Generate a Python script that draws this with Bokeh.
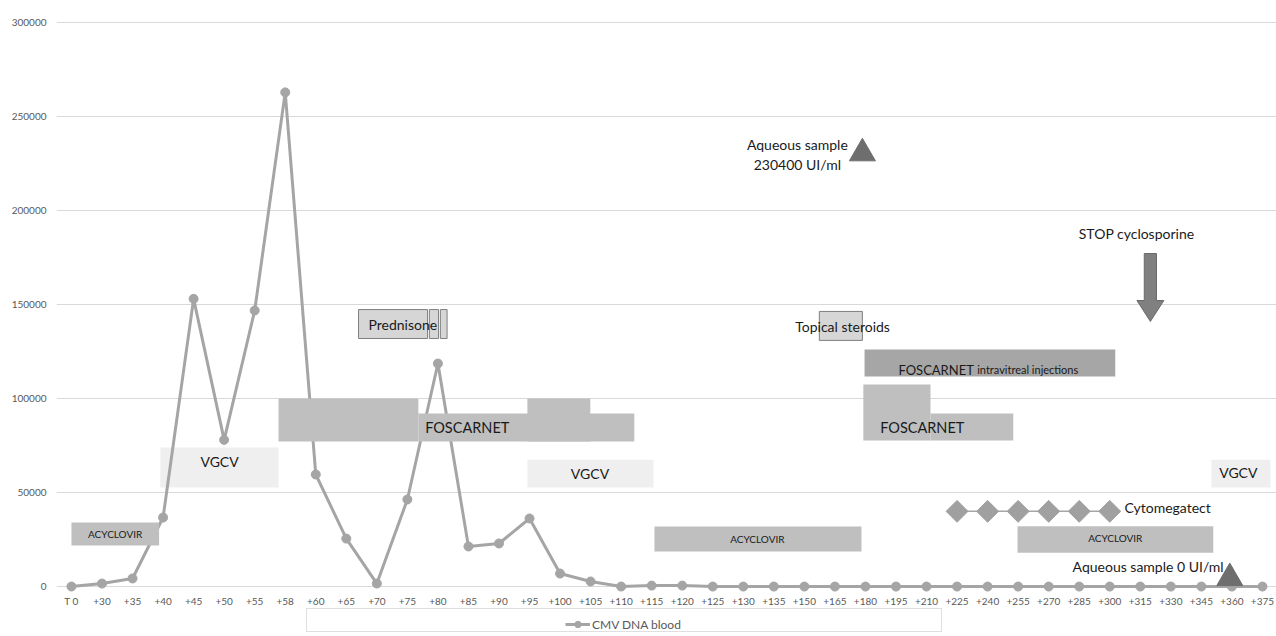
from bokeh.plotting import figure
from bokeh.models import Range1d, FixedTicker, BasicTickFormatter, Legend, LegendItem
from bokeh.core.properties import value
from bokeh.embed import file_html
from bokeh.resources import INLINE

FONT = "Lato"

# ---------------- data ----------------
days = ["T 0", "+30", "+35", "+40", "+45", "+50", "+55", "+58", "+60", "+65",
        "+70", "+75", "+80", "+85", "+90", "+95", "+100", "+105", "+110", "+115",
        "+120", "+125", "+130", "+135", "+150", "+165", "+180", "+195", "+210", "+225",
        "+240", "+255", "+270", "+285", "+300", "+315", "+330", "+345", "+360", "+375"]
cmv_blood = [0, 1600, 4300, 36700, 153000, 78000, 146800, 262800, 59600, 25500,
             1600, 46300, 118600, 21300, 22900, 36200, 6900, 2700, 0, 500,
             500, 0, 0, 0, 0, 0, 0, 0, 0, 0,
             0, 0, 0, 0, 0, 0, 0, 0, 0, 0]
y_ticks = [0, 50000, 100000, 150000, 200000, 250000, 300000]

# treatment periods (x in day-index units, y in chart units)
acyclovir_start = [0.0, 19.09, 30.98]
acyclovir_end = [2.87, 25.87, 37.39]
acyclovir_low = [21800, 18600, 18000]
acyclovir_high = [34000, 31900, 32100]

vgcv_start = [2.91, 14.93, 37.33]
vgcv_end = [6.78, 19.06, 39.26]
vgcv_low = [52700, 52700, 52700]
vgcv_high = [73900, 67500, 67500]

foscarnet_start = [6.78, 11.36, 14.93, 25.93, 28.13]
foscarnet_end = [11.36, 18.43, 16.99, 28.13, 30.84]
foscarnet_low = [77100, 77100, 77100, 77700, 77700]
foscarnet_high = [100000, 92000, 100000, 107400, 92000]

intravitreal_start = [25.97]
intravitreal_end = [34.18]
intravitreal_low = [111700]
intravitreal_high = [126000]

steroid_start = [9.40, 11.72, 12.08, 24.49]
steroid_end = [11.66, 12.02, 12.30, 25.90]
steroid_low = [131900, 131900, 131900, 130900]
steroid_high = [147300, 147300, 147300, 146300]

cytomegatect_x = [29, 30, 31, 32, 33, 34]
cytomegatect_y = [40000, 40000, 40000, 40000, 40000, 40000]

aqueous_x = [25.9, 37.93]
aqueous_y = [230400, 4500]

stop_x = 35.33
stop_tail, stop_neck, stop_tip = 177100, 152100, 141000

# ---------------- figure ----------------
p = figure(frame_width=1220, frame_height=613,
           min_border_left=56, min_border_right=0, min_border_top=21, min_border_bottom=0,
           x_range=Range1d(-0.49, 39.46), y_range=Range1d(-25500, 300500),
           output_backend="svg", toolbar_location=None)
p.outline_line_color = None
p.background_fill_color = "white"
p.border_fill_color = "white"

xi = list(range(len(days)))
p.xaxis.ticker = FixedTicker(ticks=xi)
p.xaxis.major_label_overrides = {i: d for i, d in enumerate(days)}
p.xaxis.fixed_location = 0
p.yaxis.ticker = FixedTicker(ticks=y_ticks)
p.yaxis.formatter = BasicTickFormatter(use_scientific=False)
for ax in (p.xaxis, p.yaxis):
    ax.axis_line_color = None
    ax.major_tick_line_color = None
    ax.minor_tick_line_color = None
    ax.major_tick_out = 0
    ax.major_tick_in = 0
    ax.minor_tick_out = 0
    ax.minor_tick_in = 0
    ax.major_label_text_font = FONT
    ax.major_label_text_font_size = "10px"
    ax.major_label_text_color = "#595959"
p.xaxis.major_label_standoff = 8
p.yaxis.major_label_standoff = 10
p.xgrid.visible = False
p.ygrid.ticker = FixedTicker(ticks=y_ticks)
p.ygrid.grid_line_color = "#d9d9d9"

# light VGCV boxes under the line
p.quad(left=vgcv_start, right=vgcv_end, bottom=vgcv_low, top=vgcv_high,
       fill_color="#efefef", line_color=None)

# CMV series
line_r = p.line(xi, cmv_blood, line_color="#a5a5a5", line_width=3)
pts_r = p.scatter(xi, cmv_blood, size=9, fill_color="#a5a5a5", line_color="#a5a5a5")

# other treatment boxes on top
p.quad(left=acyclovir_start, right=acyclovir_end, bottom=acyclovir_low, top=acyclovir_high,
       fill_color="#bfbfbf", line_color=None)
p.quad(left=foscarnet_start, right=foscarnet_end, bottom=foscarnet_low, top=foscarnet_high,
       fill_color="#bfbfbf", line_color=None)
p.quad(left=intravitreal_start, right=intravitreal_end, bottom=intravitreal_low,
       top=intravitreal_high, fill_color="#a6a6a6", line_color=None)
p.quad(left=steroid_start, right=steroid_end, bottom=steroid_low, top=steroid_high,
       fill_color="#d6d6d6", line_color="#7f7f7f", line_width=1)

# Cytomegatect doses
p.line(cytomegatect_x, cytomegatect_y, line_color="#a6a6a6", line_width=1.5)
p.scatter(cytomegatect_x, cytomegatect_y, marker="square", angle=0.785398, size=15.5,
          fill_color="#a0a0a0", line_color="#a0a0a0")

# aqueous samples
p.scatter(aqueous_x, aqueous_y, marker="triangle", size=26,
          fill_color="#6e6e6e", line_color="#6e6e6e")

# STOP cyclosporine arrow
sw, hw = 0.2, 0.44
p.patch([stop_x - sw, stop_x + sw, stop_x + sw, stop_x + hw, stop_x, stop_x - hw, stop_x - sw],
        [stop_tail, stop_tail, stop_neck, stop_neck, stop_tip, stop_neck, stop_neck],
        fill_color="#808080", line_color="#6a6a6a", line_width=1)

# ---------------- texts ----------------
def txt(x, y, t, size, align="center", baseline="middle", color="#1a1a1a"):
    p.text(x=x, y=y, text=t, text_font=value(FONT), text_font_size=size,
           text_align=align, text_baseline=baseline, text_color=color)

txt([1.43, 22.46, 34.18], [27700, 25500, 26000], ["ACYCLOVIR"] * 3, "10px")
txt([4.85, 16.98, 38.21], [66500, 60300, 60600], ["VGCV"] * 3, "14px")
txt([12.96, 27.86], [84400, 84700], ["FOSCARNET"] * 2, "14.5px")
txt([29.55], [115400], ["FOSCARNET"], "13px", align="right", baseline="alphabetic")
txt([29.66], [115400], ["intravitreal injections"], "11px", align="left", baseline="alphabetic")
txt([10.85], [139600], ["Prednisone"], "14px")
txt([25.25], [138500], ["Topical steroids"], "14px")
txt([23.77], [229800], ["Aqueous sample\n230400 UI/ml"], "14px")
txt([34.88], [187800], ["STOP cyclosporine"], "14px")
txt([34.48], [42000], ["Cytomegatect"], "14px", align="left")
txt([37.73], [10600], ["Aqueous sample 0 UI/ml"], "14px", align="right")

# ---------------- legend (inside the frame, under the day labels) ----------------
# wide bordered frame of the legend
frame_dummy = p.line([0], [0], line_alpha=0)
legend_box = Legend(items=[LegendItem(label=" ", renderers=[frame_dummy])],
                    location=(250, 2), orientation="horizontal",
                    border_line_color="#bfbfbf", label_width=603,
                    glyph_width=20, glyph_height=16, padding=3, margin=0,
                    background_fill_alpha=1.0, label_text_font_size="12px")
p.add_layout(legend_box, "center")

legend = Legend(items=[LegendItem(label="CMV DNA blood", renderers=[line_r, pts_r])],
                location=(509, 2), orientation="horizontal",
                border_line_color=None, background_fill_alpha=0.0,
                glyph_width=25, glyph_height=16, padding=3, margin=0,
                label_standoff=2,
                label_text_font=FONT, label_text_font_size="12px",
                label_text_color="#595959")
p.add_layout(legend, "center")

open("out.html", "w").write(file_html(p, INLINE))
